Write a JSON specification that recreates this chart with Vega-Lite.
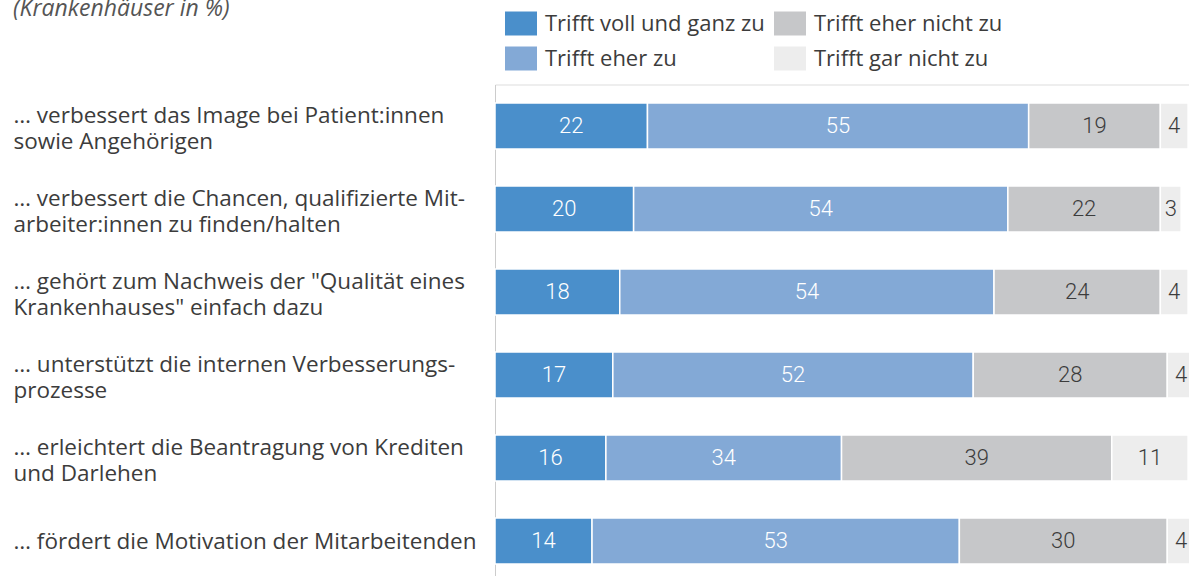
{
  "$schema": "https://vega.github.io/schema/vega-lite/v6.json",
  "autosize": {"type": "none"},
  "padding": {"left": 495, "top": 84.5, "right": 0, "bottom": 0},
  "width": 700,
  "height": 498,
  "background": "white",
  "title": {
    "text": "(Krankenhäuser in %)",
    "anchor": "start",
    "frame": "bounds",
    "font": "Open Sans",
    "fontStyle": "italic",
    "fontWeight": "normal",
    "fontSize": 23,
    "color": "#555555",
    "offset": -13
  },
  "data": {
    "values": [
      {"item": "… verbessert das Image bei Patient:innen|sowie Angehörigen", "cat": "Trifft voll und ganz zu", "rank": 1, "value": 22},
      {"item": "… verbessert das Image bei Patient:innen|sowie Angehörigen", "cat": "Trifft eher zu", "rank": 2, "value": 55},
      {"item": "… verbessert das Image bei Patient:innen|sowie Angehörigen", "cat": "Trifft eher nicht zu", "rank": 3, "value": 19},
      {"item": "… verbessert das Image bei Patient:innen|sowie Angehörigen", "cat": "Trifft gar nicht zu", "rank": 4, "value": 4},
      {"item": "… verbessert die Chancen, qualifizierte Mit-|arbeiter:innen zu finden/halten", "cat": "Trifft voll und ganz zu", "rank": 1, "value": 20},
      {"item": "… verbessert die Chancen, qualifizierte Mit-|arbeiter:innen zu finden/halten", "cat": "Trifft eher zu", "rank": 2, "value": 54},
      {"item": "… verbessert die Chancen, qualifizierte Mit-|arbeiter:innen zu finden/halten", "cat": "Trifft eher nicht zu", "rank": 3, "value": 22},
      {"item": "… verbessert die Chancen, qualifizierte Mit-|arbeiter:innen zu finden/halten", "cat": "Trifft gar nicht zu", "rank": 4, "value": 3},
      {"item": "… gehört zum Nachweis der \"Qualität eines|Krankenhauses\" einfach dazu", "cat": "Trifft voll und ganz zu", "rank": 1, "value": 18},
      {"item": "… gehört zum Nachweis der \"Qualität eines|Krankenhauses\" einfach dazu", "cat": "Trifft eher zu", "rank": 2, "value": 54},
      {"item": "… gehört zum Nachweis der \"Qualität eines|Krankenhauses\" einfach dazu", "cat": "Trifft eher nicht zu", "rank": 3, "value": 24},
      {"item": "… gehört zum Nachweis der \"Qualität eines|Krankenhauses\" einfach dazu", "cat": "Trifft gar nicht zu", "rank": 4, "value": 4},
      {"item": "\u00a0… unterstützt die internen Verbesserungs-|prozesse", "cat": "Trifft voll und ganz zu", "rank": 1, "value": 17},
      {"item": "\u00a0… unterstützt die internen Verbesserungs-|prozesse", "cat": "Trifft eher zu", "rank": 2, "value": 52},
      {"item": "\u00a0… unterstützt die internen Verbesserungs-|prozesse", "cat": "Trifft eher nicht zu", "rank": 3, "value": 28},
      {"item": "\u00a0… unterstützt die internen Verbesserungs-|prozesse", "cat": "Trifft gar nicht zu", "rank": 4, "value": 4},
      {"item": "… erleichtert die Beantragung von Krediten|und Darlehen", "cat": "Trifft voll und ganz zu", "rank": 1, "value": 16},
      {"item": "… erleichtert die Beantragung von Krediten|und Darlehen", "cat": "Trifft eher zu", "rank": 2, "value": 34},
      {"item": "… erleichtert die Beantragung von Krediten|und Darlehen", "cat": "Trifft eher nicht zu", "rank": 3, "value": 39},
      {"item": "… erleichtert die Beantragung von Krediten|und Darlehen", "cat": "Trifft gar nicht zu", "rank": 4, "value": 11},
      {"item": "… fördert die Motivation der Mitarbeitenden", "cat": "Trifft voll und ganz zu", "rank": 1, "value": 14},
      {"item": "… fördert die Motivation der Mitarbeitenden", "cat": "Trifft eher zu", "rank": 2, "value": 53},
      {"item": "… fördert die Motivation der Mitarbeitenden", "cat": "Trifft eher nicht zu", "rank": 3, "value": 30},
      {"item": "… fördert die Motivation der Mitarbeitenden", "cat": "Trifft gar nicht zu", "rank": 4, "value": 4}
    ]
  },
  "transform": [
    {"stack": "value", "groupby": ["item"], "sort": [{"field": "rank", "order": "ascending"}], "as": ["x0", "x1"]},
    {"calculate": "(datum.x0 + datum.x1) / 2", "as": "xmid"}
  ],
  "encoding": {
    "y": {
      "field": "item",
      "type": "nominal",
      "sort": [
        "… verbessert das Image bei Patient:innen|sowie Angehörigen",
        "… verbessert die Chancen, qualifizierte Mit-|arbeiter:innen zu finden/halten",
        "… gehört zum Nachweis der \"Qualität eines|Krankenhauses\" einfach dazu",
        "\u00a0… unterstützt die internen Verbesserungs-|prozesse",
        "… erleichtert die Beantragung von Krediten|und Darlehen",
        "… fördert die Motivation der Mitarbeitenden"
      ],
      "scale": {"paddingInner": 0.446, "paddingOuter": 0.223},
      "axis": {
        "title": null,
        "domain": true,
        "domainColor": "#cccccc",
        "domainWidth": 1,
        "ticks": false,
        "grid": false,
        "labelAlign": "left",
        "labelPadding": 482,
        "labelLimit": 600,
        "labelFont": "Open Sans",
        "labelFontSize": 22.5,
        "labelColor": "#3c3c3c",
        "labelLineHeight": 26,
        "labelBaseline": "middle",
        "labelOffset": {"condition": {"test": "indexof(datum.value, '|') >= 0", "value": -10}, "value": 1},
        "labelExpr": "split(datum.label, '|')"
      }
    }
  },
  "layer": [
    {
      "mark": {"type": "bar", "stroke": "white", "strokeWidth": 1.5},
      "encoding": {
        "x": {"field": "x0", "type": "quantitative", "scale": {"domain": [0, 101], "nice": false}, "axis": null},
        "x2": {"field": "x1"},
        "color": {
          "field": "cat",
          "type": "nominal",
          "scale": {
            "domain": ["Trifft voll und ganz zu", "Trifft eher nicht zu", "Trifft eher zu", "Trifft gar nicht zu"],
            "range": ["#4a8fcb", "#c6c7c9", "#83a9d6", "#ededed"]
          },
          "legend": {
            "title": null,
            "orient": "none",
            "legendX": 10,
            "legendY": -77,
            "columns": 2,
            "direction": "horizontal",
            "symbolType": "M-1,-0.75H1V0.75H-1Z",
            "symbolSize": 1024,
            "symbolStrokeWidth": 0,
            "symbolOpacity": 1,
            "labelFont": "Open Sans",
            "labelFontSize": 22,
            "labelColor": "#3c3c3c",
            "labelOffset": 8,
            "labelLimit": 400,
            "columnPadding": 9,
            "rowPadding": 7
          }
        }
      }
    },
    {
      "mark": {"type": "text", "font": "Roboto", "fontWeight": 300, "fontSize": 22, "baseline": "middle", "align": "center"},
      "encoding": {
        "x": {"field": "xmid", "type": "quantitative"},
        "text": {"field": "value", "type": "quantitative"},
        "color": {
          "condition": {"test": "datum.rank <= 2", "value": "white"},
          "value": "#3c3c3c"
        }
      }
    }
  ]
}
